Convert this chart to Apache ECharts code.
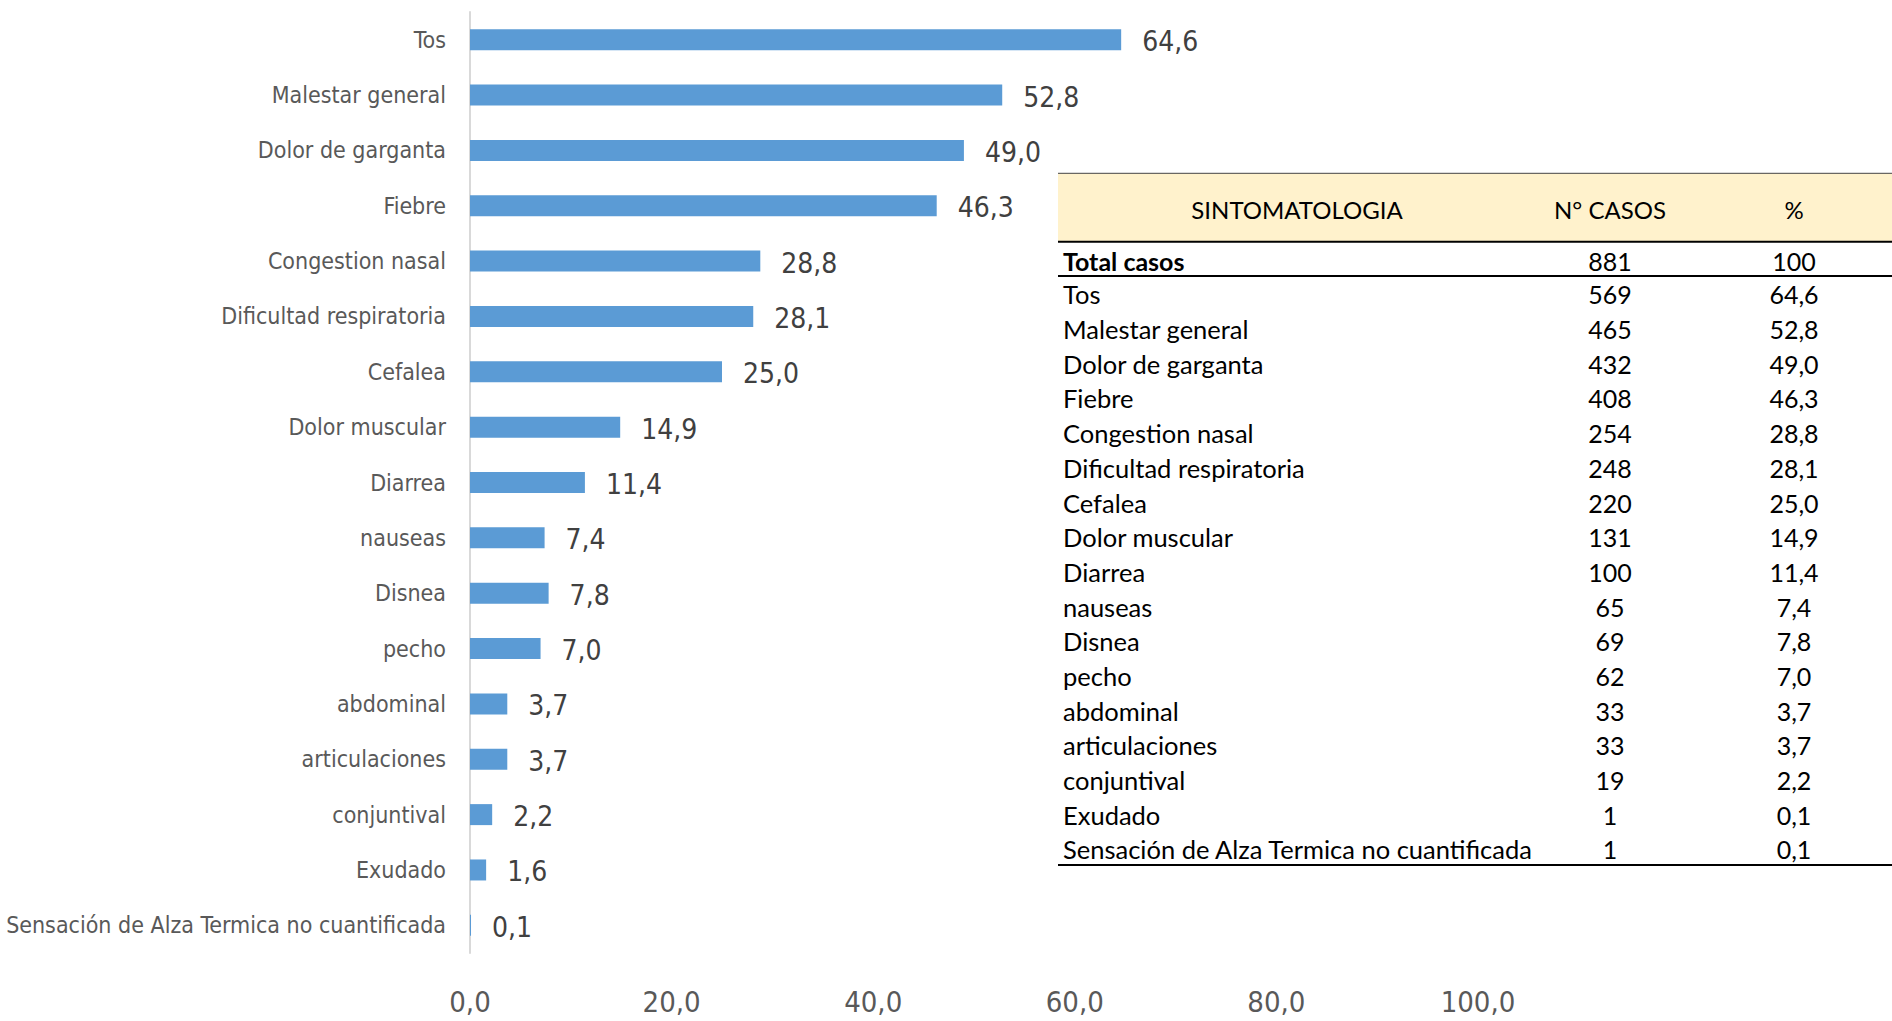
<!DOCTYPE html>
<html>
<head>
<meta charset="utf-8">
<script src="https://cdn.jsdelivr.net/npm/echarts@6/dist/echarts.min.js"></script>
<style>
html,body{margin:0;padding:0;background:#fff;}
#c{width:1892px;height:1021px;}
</style>
</head>
<body>
<div id="c"></div>
<script>
// ---- data ----
const categories = ["Tos","Malestar general","Dolor de garganta","Fiebre","Congestion nasal","Dificultad respiratoria","Cefalea","Dolor muscular","Diarrea","nauseas","Disnea","pecho","abdominal","articulaciones","conjuntival","Exudado","Sensación de Alza Termica no cuantificada"];
const chartValues = [64.6,52.8,49.0,46.3,28.8,28.1,25.0,14.9,11.4,7.4,7.8,7.0,3.7,3.7,2.2,1.6,0.1];
const tableHeader = ["SINTOMATOLOGIA","N° CASOS","%"];
const totalRow = ["Total casos","881","100"];
const tableCases = [569,465,432,408,254,248,220,131,100,65,69,62,33,33,19,1,1];
const tablePct = [64.6,52.8,49.0,46.3,28.8,28.1,25.0,14.9,11.4,7.4,7.8,7.0,3.7,3.7,2.2,0.1,0.1];
const xTicks = [0,20,40,60,80,100];

const fmt = v => Number(v).toFixed(1).replace('.', ',');
const narrow = "'DejaVu Sans Condensed','DejaVu Sans',sans-serif";
const tfont = "Lato,'Noto Sans',sans-serif";

// ---- table (graphic) ----
const T = {x0:1058, x1:1892, top:173.3, headBot:241.7, totalBot:276, bottom:865,
           c1:1063, c2:1610, c3:1794, headY:209, totalY:260.6, row0:294.4, step:34.69};
const g = [];
g.push({type:'rect', shape:{x:T.x0, y:T.top, width:T.x1-T.x0, height:T.headBot-T.top}, style:{fill:'#FFF2CC'}, z:1});
g.push({type:'line', shape:{x1:T.x0, y1:T.top, x2:T.x1, y2:T.top}, style:{stroke:'#444', lineWidth:1}, z:2});
[T.headBot, T.totalBot, T.bottom].forEach(y => g.push({type:'line', shape:{x1:T.x0, y1:y, x2:T.x1, y2:y}, style:{stroke:'#000', lineWidth:2}, z:2}));
function txt(s, x, y, align, bold, size){
  g.push({type:'text', x:x, y:y, z:3, style:{text:s, fill:'#000', fontSize:size, fontFamily:tfont, fontWeight:bold?'bold':'normal', align:align, verticalAlign:'middle'}});
}
txt(tableHeader[0], 1297, T.headY, 'center', false, 24);
txt(tableHeader[1], T.c2, T.headY, 'center', false, 24);
txt(tableHeader[2], T.c3, T.headY, 'center', false, 24);
txt(totalRow[0], T.c1, T.totalY, 'left', true, 25);
txt(totalRow[1], T.c2, T.totalY, 'center', false, 25);
txt(totalRow[2], T.c3, T.totalY, 'center', false, 25);
categories.forEach((c,i) => {
  const y = T.row0 + i*T.step;
  txt(c, T.c1, y, 'left', false, 25.5);
  txt(String(tableCases[i]), T.c2, y, 'center', false, 25);
  txt(fmt(tablePct[i]), T.c3, y, 'center', false, 25);
});

const chart = echarts.init(document.getElementById('c'), null, {renderer:'svg'});
chart.setOption({
  animation:false,
  backgroundColor:'#fff',
  grid:{left:470, top:12, width:1008, height:941, containLabel:false, outerBoundsMode:'none'},
  xAxis:{type:'value', min:xTicks[0], max:xTicks[xTicks.length-1], interval:20,
    axisLine:{show:false}, axisTick:{show:false}, splitLine:{show:false},
    axisLabel:{formatter:v=>fmt(v), color:'#595959', fontSize:29, fontFamily:narrow, margin:34}},
  yAxis:{type:'category', data:categories, inverse:true,
    axisLine:{show:true, lineStyle:{color:'#d9d9d9', width:2}}, axisTick:{show:false},
    axisLabel:{color:'#595959', fontSize:23, fontFamily:narrow, margin:24}},
  series:[{type:'bar', data:chartValues, barWidth:21,
    itemStyle:{color:'#5B9BD5'},
    label:{show:true, position:'right', distance:21, formatter:p=>fmt(p.value), color:'#404040', fontSize:28, fontFamily:narrow, offset:[0,2]}}],
  graphic:g
});
</script>
</body>
</html>
